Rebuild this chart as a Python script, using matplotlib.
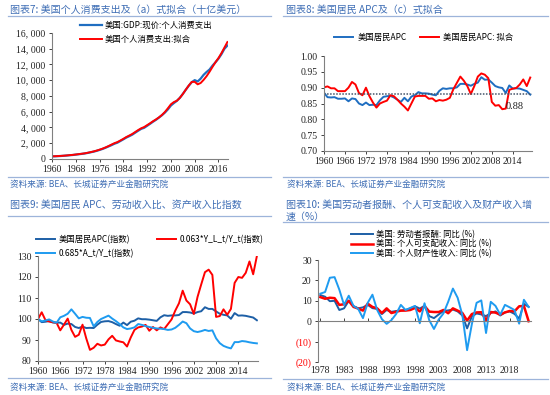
import matplotlib
matplotlib.use("Agg")
import matplotlib.pyplot as plt
from matplotlib.lines import Line2D

W, H = 550, 395
plt.rcParams["font.family"] = ["Noto Sans CJK SC", "DejaVu Sans"]

TITLE_C = "#3F6EB5"
RULE_C = "#9DB4DA"
BLUE = "#1F6EC1"
DKBLUE = "#1D5FA6"
LTBLUE = "#1E9BF0"
RED = "#FF0000"
NUMFONT = "Liberation Serif"

# ---- 图表7: personal consumption expenditure (billion USD) ----
years7 = list(range(1960, 2020))
pce_actual = [331, 342, 363, 383, 411, 444, 481, 509, 558, 605,
              649, 702, 770, 852, 933, 1034, 1151, 1278, 1428, 1593,
              1755, 1937, 2073, 2286, 2498, 2723, 2898, 3092, 3346, 3592,
              3826, 3960, 4215, 4471, 4741, 4984, 5268, 5561, 5904, 6307,
              6792, 7103, 7385, 7765, 8260, 8794, 9304, 9750, 10014, 9847,
              10202, 10689, 11051, 11362, 11863, 12284, 12748, 13312, 13999, 14400]
pce_fit = [340, 352, 370, 392, 420, 452, 490, 522, 570, 618,
           665, 720, 790, 875, 960, 1065, 1185, 1315, 1470, 1640,
           1830, 2010, 2150, 2350, 2560, 2790, 2980, 3180, 3430, 3680,
           3900, 4060, 4300, 4540, 4800, 5030, 5290, 5600, 5980, 6450,
           6950, 7230, 7400, 7760, 8250, 8800, 9330, 9790, 9800, 9480,
           9650, 10050, 10520, 11080, 11700, 12300, 12820, 13450, 14150, 14850]

# ---- 图表8: APC and fit ----
years8 = list(range(1960, 2020))
apc = [0.884, 0.870, 0.869, 0.870, 0.865, 0.865, 0.866, 0.857, 0.866, 0.864,
       0.850, 0.845, 0.853, 0.845, 0.846, 0.845, 0.860, 0.871, 0.873, 0.874,
       0.869, 0.862, 0.855, 0.868, 0.857, 0.872, 0.876, 0.886, 0.882, 0.882,
       0.881, 0.878, 0.876, 0.890, 0.898, 0.896, 0.898, 0.898, 0.901, 0.912,
       0.912, 0.910, 0.906, 0.912, 0.916, 0.933, 0.925, 0.926, 0.916, 0.905,
       0.901, 0.899, 0.883, 0.907, 0.897, 0.898, 0.897, 0.893, 0.889, 0.878]
apc_fit = [0.901, 0.904, 0.898, 0.898, 0.889, 0.889, 0.889, 0.900, 0.918, 0.910,
           0.883, 0.876, 0.900, 0.873, 0.853, 0.837, 0.850, 0.855, 0.859, 0.876,
           0.873, 0.862, 0.850, 0.840, 0.828, 0.850, 0.872, 0.874, 0.874, 0.874,
           0.865, 0.866, 0.857, 0.861, 0.859, 0.862, 0.868, 0.895, 0.915, 0.935,
           0.922, 0.905, 0.880, 0.905, 0.935, 0.945, 0.941, 0.930, 0.855, 0.843,
           0.845, 0.832, 0.834, 0.893, 0.897, 0.899, 0.910, 0.926, 0.905, 0.932]
apc_ref = 0.88

# ---- 图表9: indices (1960 = 100) ----
years9 = list(range(1960, 2020))
apc_idx = [100.0, 98.5, 98.7, 99.0, 98.3, 98.2, 98.3, 97.2, 97.8, 97.6,
           96.2, 95.7, 96.4, 95.7, 95.8, 95.7, 97.3, 98.6, 98.9, 99.0,
           98.5, 97.6, 96.8, 98.3, 97.1, 98.7, 99.2, 100.3, 99.9, 99.9,
           99.7, 99.4, 99.1, 100.8, 101.8, 101.5, 101.7, 101.7, 101.9, 103.3,
           103.3, 103.1, 102.6, 103.3, 103.7, 105.6, 104.8, 104.8, 103.6, 102.5,
           102.0, 101.7, 100.1, 102.8, 101.6, 101.7, 101.5, 101.1, 100.7, 99.4]
labor_idx = [100.0, 103.2, 99.5, 98.8, 98.5, 98.2, 94.6, 97.3, 100.2, 94.8,
             91.5, 92.5, 97.3, 90.8, 85.3, 86.3, 88.2, 87.4, 87.8, 90.3,
             92.0, 89.8, 89.3, 88.9, 86.9, 91.2, 94.8, 96.0, 96.4, 97.2,
             94.4, 96.2, 94.6, 96.0, 95.2, 97.5, 99.8, 104.0, 107.5, 113.5,
             108.8, 107.0, 102.4, 110.5, 116.5, 122.3, 123.5, 121.0, 101.0, 101.4,
             104.6, 102.0, 104.8, 117.2, 120.0, 119.6, 122.0, 127.4, 121.3, 130.0]
asset_idx = [100.0, 98.9, 99.3, 99.8, 98.8, 98.2, 100.8, 101.5, 102.5, 104.6,
             102.5, 100.3, 101.0, 100.6, 100.5, 96.5, 98.6, 100.0, 100.8, 101.6,
             100.2, 99.0, 97.6, 96.0, 95.2, 95.5, 96.0, 97.6, 97.2, 96.6,
             96.2, 95.8, 95.5, 95.4, 95.2, 94.8, 95.0, 95.8, 97.2, 98.8,
             98.0, 95.5, 94.2, 93.8, 94.2, 94.8, 94.3, 94.6, 90.8, 88.5,
             87.2, 86.5, 86.0, 89.0, 89.0, 89.5, 89.3, 88.9, 88.6, 88.4]

# ---- 图表10: YoY growth (%) ----
years10 = list(range(1978, 2023))
comp_yoy = [12.8, 12.0, 9.8, 10.0, 5.5, 6.3, 10.0, 7.4, 6.3, 6.8,
            8.0, 6.4, 6.0, 3.5, 5.5, 4.6, 5.0, 5.2, 5.5, 6.3,
            7.3, 6.2, 7.5, 2.5, 1.5, 3.3, 5.0, 5.3, 5.7, 4.8,
            2.8, -3.5, 2.3, 3.8, 3.3, 2.5, 4.0, 4.8, 2.8, 4.3,
            4.8, 3.6, 1.3, 8.5, 7.0]
dpi_yoy = [11.8, 11.0, 11.5, 11.3, 8.0, 8.3, 10.0, 7.0, 6.2, 5.2,
           8.6, 7.0, 6.3, 4.0, 6.3, 4.0, 4.6, 5.2, 5.2, 5.5,
           6.5, 4.8, 7.5, 4.7, 4.5, 4.5, 5.5, 3.9, 6.3, 5.2,
           4.0, 0.3, 3.5, 4.3, 4.4, 0.5, 4.5, 4.2, 3.2, 4.3,
           5.0, 4.8, 7.3, 7.5, 0.0]
prop_yoy = [13.5, 14.3, 21.3, 21.6, 15.5, 8.0, 12.5, 7.5, 6.0, 1.5,
            9.0, 13.0, 5.5, 1.0, -1.3, 0.5, 3.5, 8.0, 5.5, 6.5,
            7.5, -1.0, 8.8, 0.5, -3.8, 0.8, 3.8, 9.5, 16.0, 11.5,
            3.0, -14.2, -1.5, 9.0, 10.2, -5.8, 9.5, 7.5, 3.2, 8.0,
            6.8, 5.5, -1.2, 10.5, 7.0]


def box(l, t, r, b):
    return [l / W, 1 - b / H, (r - l) / W, (b - t) / H]


def fx(px):
    return px / W


def fy(py):
    return 1 - py / H


def rule(fig, x0, x1, y):
    fig.add_artist(Line2D([fx(x0), fx(x1)], [fy(y), fy(y)], color=RULE_C,
                          lw=0.9, transform=fig.transFigure))


def style(ax):
    for s in ("top", "right"):
        ax.spines[s].set_visible(False)
    for s in ("left", "bottom"):
        ax.spines[s].set_color("#808080")
        ax.spines[s].set_linewidth(0.8)
    ax.tick_params(length=2.5, width=0.6, colors="#222222", labelsize=7,
                   pad=2, labelfontfamily=NUMFONT)


fig = plt.figure(figsize=(W / 100, H / 100), dpi=100)
fig.patch.set_facecolor("white")

# titles, rules and sources
fig.text(fx(10), fy(10), "图表7: 美国个人消费支出及（a）式拟合（十亿美元）",
         color=TITLE_C, fontsize=7.2, va="center")
fig.text(fx(286), fy(10), "图表8: 美国居民 APC及（c）式拟合",
         color=TITLE_C, fontsize=7.2, va="center")
fig.text(fx(10), fy(205), "图表9: 美国居民 APC、劳动收入比、资产收入比指数",
         color=TITLE_C, fontsize=7.2, va="center")
fig.text(fx(286), fy(205), "图表10: 美国劳动者报酬、个人可支配收入及财产收入增",
         color=TITLE_C, fontsize=7.2, va="center")
fig.text(fx(286), fy(217), "速（%）", color=TITLE_C, fontsize=7.2, va="center")

rule(fig, 8, 271, 16)
rule(fig, 283, 548, 16)
rule(fig, 8, 271, 177)
rule(fig, 283, 548, 177)
rule(fig, 8, 271, 216)
rule(fig, 283, 548, 222)
rule(fig, 8, 271, 378)
rule(fig, 283, 548, 379)

src = "资料来源: BEA、长城证券产业金融研究院"
for x, y in [(10, 184), (287, 184), (10, 387), (287, 387)]:
    fig.text(fx(x), fy(y), src, color=TITLE_C, fontsize=6.2, va="center")

# ---- panel 7 ----
ax7 = fig.add_axes(box(52, 33, 228, 159))
ax7.plot(years7, pce_actual, color=BLUE, lw=1.6, label="美国:GDP:现价:个人消费支出")
ax7.plot(years7, pce_fit, color=RED, lw=1.4, label="美国个人消费支出:拟合")
ax7.set_xlim(1960, 2019.2)
ax7.set_ylim(0, 16000)
ax7.set_xticks(range(1960, 2017, 8))
ax7.set_yticks(range(0, 16001, 2000))
ax7.set_yticklabels([f"{v:,}".replace(",", ", ") for v in range(0, 16001, 2000)])
style(ax7)
ax7.legend(loc="upper left", bbox_to_anchor=(fx(80), fy(21)),
           bbox_transform=fig.transFigure, frameon=False, fontsize=6,
           borderpad=0, borderaxespad=0, handlelength=2.6, handletextpad=0.4,
           labelspacing=0.55)

# ---- panel 8 ----
ax8 = fig.add_axes(box(324, 56, 532, 151))
ax8.plot(years8, apc, color=BLUE, lw=1.4, label="美国居民APC")
ax8.plot(years8, apc_fit, color=RED, lw=1.4, label="美国居民APC: 拟合")
ax8.axhline(apc_ref, color="#44546A", lw=1.1, ls=(0, (1, 1)))
ax8.text(2014.6, apc_ref - 0.039, f"{apc_ref:.2f}", fontsize=7.5,
         family=NUMFONT, ha="center", va="center", color="#222222")
ax8.set_xlim(1960, 2019.5)
ax8.set_ylim(0.70, 1.00)
ax8.set_xticks(range(1960, 2015, 6))
yt8 = [0.70, 0.75, 0.80, 0.85, 0.90, 0.95, 1.00]
ax8.set_yticks(yt8)
ax8.set_yticklabels([f"{v:.2f}" for v in yt8])
style(ax8)
ax8.legend(loc="upper left", bbox_to_anchor=(fx(334), fy(33)),
           bbox_transform=fig.transFigure, frameon=False, fontsize=6, ncol=2,
           borderpad=0, borderaxespad=0, handlelength=2.3, handletextpad=0.5,
           columnspacing=1.6)

# ---- panel 9 ----
ax9 = fig.add_axes(box(38, 256, 258, 361))
l_apc, = ax9.plot(years9, apc_idx, color=DKBLUE, lw=1.4, label="美国居民APC(指数)")
l_lab, = ax9.plot(years9, labor_idx, color=RED, lw=1.4, label="0.063*Y_L_t/Y_t(指数)")
l_ast, = ax9.plot(years9, asset_idx, color=LTBLUE, lw=1.4, label="0.685*A_t/Y_t(指数)")
ax9.set_xlim(1960, 2019.3)
ax9.set_ylim(80, 130)
ax9.set_xticks(range(1960, 2015, 6))
ax9.set_yticks(range(80, 131, 10))
style(ax9)
ax9.legend(handles=[l_apc, l_ast, l_lab], loc="upper left",
           bbox_to_anchor=(fx(36), fy(235)), bbox_transform=fig.transFigure,
           frameon=False, fontsize=6, ncol=2, borderpad=0, borderaxespad=0,
           handlelength=2.3, handletextpad=0.4, columnspacing=2.8,
           labelspacing=0.55)

# ---- panel 10 ----
ax10 = fig.add_axes(box(318, 260, 531, 362))
ax10.plot(years10, comp_yoy, color=DKBLUE, lw=1.4, label="美国: 劳动者报酬: 同比 (%)")
ax10.plot(years10, dpi_yoy, color=RED, lw=1.8, label="美国: 个人可支配收入: 同比 (%)")
ax10.plot(years10, prop_yoy, color=LTBLUE, lw=1.4, label="美国: 个人财产性收入: 同比 (%)")
ax10.set_xlim(1977.5, 2022.5)
ax10.set_ylim(-20, 30)
ax10.set_xticks(range(1978, 2019, 5))
yt10 = list(range(-20, 31, 10))
ax10.set_yticks(yt10, [f"({-v})" if v < 0 else f"{v}" for v in yt10])
style(ax10)
for lab, v in zip(ax10.get_yticklabels(), yt10):
    if v < 0:
        lab.set_color(RED)
ax10.spines["bottom"].set_position(("data", 0))
ax10.tick_params(axis="x", direction="in", pad=32)
ax10.legend(loc="upper left", bbox_to_anchor=(fx(351), fy(230)),
            bbox_transform=fig.transFigure, frameon=False, fontsize=6,
            borderpad=0, borderaxespad=0, handlelength=2.6, handletextpad=0.4,
            labelspacing=0.05)

fig.savefig("out.png", dpi=100)
